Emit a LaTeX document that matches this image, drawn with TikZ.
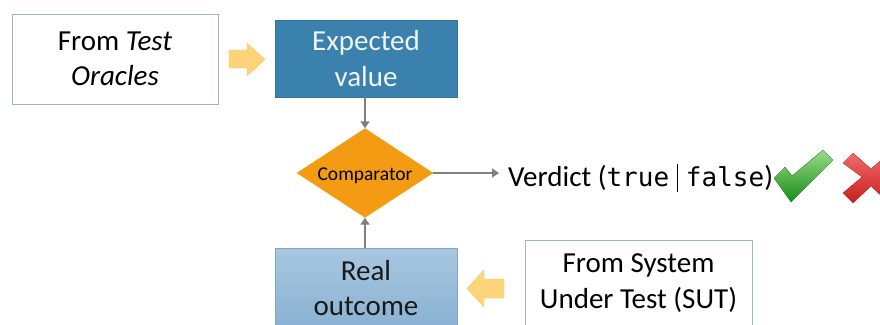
\documentclass[tikz,border=0pt]{standalone}
\usepackage{fontspec}
\setmainfont{Carlito}
\setmonofont{DejaVu Sans Mono}
\usetikzlibrary{shapes.geometric,arrows.meta}
\definecolor{boxline}{HTML}{9BB7C6}
\definecolor{expfill}{HTML}{3A82AD}
\definecolor{expline}{HTML}{33759C}
\definecolor{realtop}{HTML}{A8C7DF}
\definecolor{realbot}{HTML}{8AB2D3}
\definecolor{realline}{HTML}{7FA6C4}
\definecolor{orangeD}{HTML}{F39B12}
\definecolor{yel}{HTML}{FDD47A}
\definecolor{yelline}{HTML}{F4C763}
\definecolor{conn}{HTML}{808080}
\definecolor{gtop}{HTML}{9ADB88}
\definecolor{gbot}{HTML}{178C17}
\definecolor{rtop}{HTML}{F26A6A}
\definecolor{rbot}{HTML}{C81E1E}
\tikzset{
  bigtext/.style={font=\fontsize{29}{35.5}\selectfont},
  srcbox/.style={draw=boxline,line width=0.8pt,fill=white,minimum width=206pt,minimum height=90pt,align=center,bigtext,inner sep=0pt},
  flowarrow/.style={draw=conn,line width=2.5pt,-{Triangle[length=7pt,width=9pt]}},
  blockarrow/.style={fill=yel,draw=yelline,line width=0.4pt}
}
\begin{document}
\begin{tikzpicture}[x=1pt,y=-1pt]
\useasboundingbox (0,0) rectangle (880,324);
\clip (0,0) rectangle (880,324);
\node[srcbox] (oracle) at (115,59) {From \textit{Test}\\\textit{Oracles}};
\node[draw=expline,fill=expfill,minimum width=182pt,minimum height=77pt,inner sep=0pt,align=center,text=white!92!expfill,bigtext] (exp) at (366,58.5) {Expected\\value};
\node[diamond,fill=orangeD,draw=orangeD!90!yellow,minimum width=136pt,minimum height=89pt,inner sep=0pt,font=\fontsize{19.5}{21}\selectfont,aspect=1.53,text height=14pt,text depth=0pt] (cmp) at (365,173) {Comparator};
\node[anchor=west,inner sep=0pt,bigtext] (verd) at (508,178) {Verdict (\texttt{\fontsize{26}{30}\selectfont true}\hspace{8pt}\raisebox{-6pt}{\rule{0.8pt}{28pt}}\hspace{8pt}\texttt{\fontsize{26}{30}\selectfont false})};
\node[draw=realline,top color=realtop,bottom color=realbot,minimum width=182pt,minimum height=80pt,inner sep=0pt,align=center,bigtext,text=black!90] (real) at (366,288) {Real\\outcome};
\node[srcbox,minimum width=227pt,minimum height=86pt] (sut) at (638.5,283) {From System\\Under Test (SUT)};
% yellow block arrows
\draw[blockarrow] (229,50) -- (247,50) -- (247,43) -- (265,59.5) -- (247,76) -- (247,68) -- (229,68) -- cycle;
\draw[blockarrow] (504,279) -- (484,279) -- (484,270) -- (467,288.5) -- (484,307) -- (484,298) -- (504,298) -- cycle;
\draw[flowarrow] (cmp.north |- exp.south) -- (cmp.north);
\draw[flowarrow] (real.north -| cmp.south) -- (cmp.south);
\coordinate (vend) at (499,173);
\draw[flowarrow] (cmp.east) -- (vend);
% check mark
\shade[top color=gtop, bottom color=gbot, draw=gbot!80!black, line width=0.3pt]
 (774,178) -- (785,167) -- (792,176) -- (823,150) -- (833,160) -- (791,202) -- cycle;
% red cross
\shade[top color=rtop, bottom color=rbot, draw=rbot!80!black, line width=0.3pt]
 (843,163) -- (853,153) -- (871,169) -- (889,153) -- (899,163) -- (880,177) -- (899,193) -- (889,203) -- (871,186) -- (853,203) -- (843,193) -- (862,177) -- cycle;
\end{tikzpicture}
\end{document}
